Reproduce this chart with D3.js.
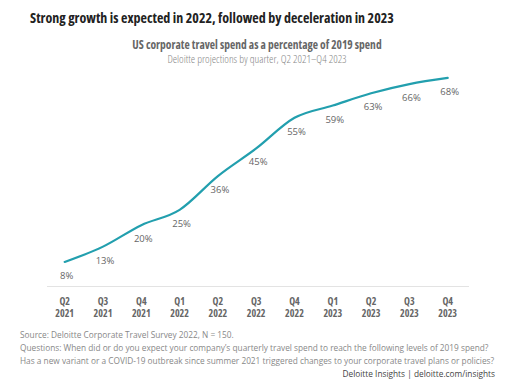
<!DOCTYPE html>
<html lang="en">
<head>
    <meta charset="UTF-8">
    <title>US corporate travel spend</title>
    <script src="https://d3js.org/d3.v7.min.js"></script>
    <style>
        body { margin: 0; background: #fff; }
        .cond { font-family: "Open Sans", sans-serif; font-stretch: condensed; }
        .title { font-size: 14px; font-weight: 700; fill: #222; }
        .subtitle { font-size: 11.5px; font-weight: 700; fill: #666; }
        .subtitle2 { font-size: 11px; font-weight: 300; fill: #888; }
        .tick_text { font-size: 10px; font-weight: 700; fill: #666; }
        .val_text { font-family: "Open Sans", sans-serif; font-size: 9.5px; fill: #666; }
        .note { font-family: "Open Sans", sans-serif; font-size: 8.3px; fill: #888; }
        .credit { font-family: "Open Sans", sans-serif; font-size: 8.3px; fill: #444; }
    </style>
</head>
<body>
<svg width="515" height="388"></svg>
<script>
    // chart data
    const quarters = ["Q2", "Q3", "Q4", "Q1", "Q2", "Q3", "Q4", "Q1", "Q2", "Q3", "Q4"];
    const years = ["2021", "2021", "2021", "2022", "2022", "2022", "2022", "2023", "2023", "2023", "2023"];
    const spend = [8, 13, 20, 25, 36, 45, 55, 59, 63, 66, 68];

    let svg = d3.select("svg");

    let x = d3.scaleLinear()
        .domain([0, spend.length - 1])
        .range([64.7, 447.7]);
    let y = d3.scaleLinear()
        .domain([0, 100])
        .range([286.5, -20.2]);

    // titles
    svg.append("text").attr("class", "cond title")
        .attr("x", 30).attr("y", 23)
        .text("Strong growth is expected in 2022, followed by deceleration in 2023");
    svg.append("text").attr("class", "cond subtitle")
        .attr("x", 257).attr("y", 49).attr("text-anchor", "middle")
        .text("US corporate travel spend as a percentage of 2019 spend");
    svg.append("text").attr("class", "cond subtitle2")
        .attr("x", 257).attr("y", 63).attr("text-anchor", "middle")
        .text("Deloitte projections by quarter, Q2 2021\u2013Q4 2023");

    // baseline
    svg.append("line")
        .attr("x1", 47).attr("x2", 469)
        .attr("y1", y(0)).attr("y2", y(0))
        .attr("stroke", "#e3e3e3").attr("stroke-width", 1);

    // x labels, quarter over year
    let ticks = svg.append("g");
    quarters.forEach(function (q, i) {
        ticks.append("text").attr("class", "cond tick_text")
            .attr("text-anchor", "middle")
            .attr("x", x(i)).attr("y", 304.5).text(q);
        ticks.append("text").attr("class", "cond tick_text")
            .attr("text-anchor", "middle")
            .attr("x", x(i)).attr("y", 317).text(years[i]);
    });

    // line
    let line = d3.line()
        .x(function (d, i) { return x(i) })
        .y(function (d) { return y(d) })
        .curve(d3.curveMonotoneX);

    svg.append("path")
        .datum(spend)
        .attr("d", line)
        .attr("fill", "none")
        .attr("stroke", "#229fae")
        .attr("stroke-width", 2.2)
        .attr("stroke-linecap", "round");

    // value labels
    svg.append("g").selectAll("text")
        .data(spend)
        .enter()
        .append("text")
        .attr("class", "val_text")
        .attr("text-anchor", "middle")
        .attr("x", function (d, i) { return x(i) + 2 })
        .attr("y", function (d) { return y(d) + 17 })
        .text(function (d) { return d + "%" });

    // notes
    let notes = [
        "Source: Deloitte Corporate Travel Survey 2022, N = 150.",
        "Questions: When did or do you expect your company\u2019s quarterly travel spend to reach the following levels of 2019 spend?",
        "Has a new variant or a COVID-19 outbreak since summer 2021 triggered changes to your corporate travel plans or policies?"
    ];
    notes.forEach(function (n, i) {
        svg.append("text").attr("class", "note")
            .attr("x", 20).attr("y", 338 + i * 13).text(n);
    });
    svg.append("text").attr("class", "credit")
        .attr("x", 495).attr("y", 377).attr("text-anchor", "end")
        .text("Deloitte Insights | deloitte.com/insights");
</script>
</body>
</html>
